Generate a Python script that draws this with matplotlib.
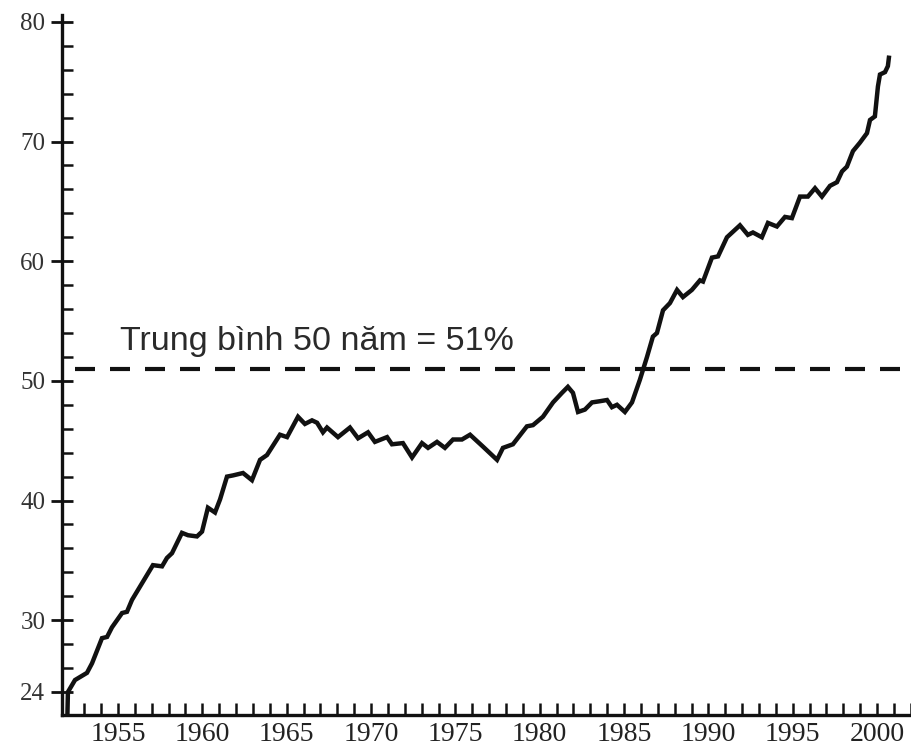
import matplotlib
matplotlib.use("Agg")
import matplotlib.pyplot as plt
from matplotlib.ticker import MultipleLocator, FixedLocator

# values (year, percent)
years = [1952.0, 1952.03, 1952.45, 1953.16, 1953.46, 1954.05, 1954.35, 1954.64, 1955.24, 1955.53,
         1955.83, 1956.30, 1957.07, 1957.61, 1957.90, 1958.20, 1958.79, 1959.15, 1959.68,
         1959.98, 1960.33, 1960.75, 1961.05, 1961.46, 1961.82, 1962.41, 1962.94, 1963.42,
         1963.83, 1964.60, 1965.02, 1965.67, 1966.08, 1966.50, 1966.80, 1967.15, 1967.39,
         1968.04, 1968.75, 1969.23, 1969.82, 1970.23, 1970.95, 1971.24, 1971.89, 1972.43,
         1973.02, 1973.38, 1973.91, 1974.38, 1974.86, 1975.39, 1975.87, 1976.64, 1977.47,
         1977.82, 1978.41, 1979.24, 1979.60, 1980.19, 1980.79, 1981.32, 1981.67, 1981.97,
         1982.27, 1982.68, 1983.10, 1983.57, 1983.99, 1984.28, 1984.58, 1985.05, 1985.47,
         1985.94, 1986.36, 1986.71, 1986.95, 1987.31, 1987.72, 1988.14, 1988.49, 1989.02,
         1989.50, 1989.68, 1990.21, 1990.57, 1991.10, 1991.87, 1992.34, 1992.64, 1993.17,
         1993.53, 1994.06, 1994.54, 1994.95, 1995.43, 1995.90, 1996.32, 1996.73, 1997.21,
         1997.62, 1997.92, 1998.21, 1998.57, 1998.98, 1999.40, 1999.58, 1999.87, 2000.05,
         2000.17, 2000.47, 2000.64, 2000.70]
share = [22.1, 24.0, 25.0, 25.6, 26.4, 28.5, 28.6, 29.4, 30.6, 30.7,
         31.7, 32.8, 34.6, 34.5, 35.2, 35.6, 37.3, 37.1, 37.0,
         37.4, 39.4, 39.0, 40.1, 42.0, 42.1, 42.3, 41.7, 43.4,
         43.8, 45.5, 45.3, 47.0, 46.4, 46.7, 46.5, 45.7, 46.1,
         45.3, 46.1, 45.2, 45.7, 44.9, 45.3, 44.7, 44.8, 43.6,
         44.8, 44.4, 44.9, 44.4, 45.1, 45.1, 45.5, 44.5, 43.4,
         44.4, 44.7, 46.2, 46.3, 47.0, 48.2, 49.0, 49.5, 49.0,
         47.4, 47.6, 48.2, 48.3, 48.4, 47.8, 48.0, 47.4, 48.2,
         50.1, 52.0, 53.7, 54.0, 55.9, 56.5, 57.6, 57.0, 57.6,
         58.4, 58.3, 60.3, 60.4, 62.0, 63.0, 62.2, 62.4, 62.0,
         63.2, 62.9, 63.7, 63.6, 65.4, 65.4, 66.1, 65.4, 66.3,
         66.6, 67.5, 67.9, 69.2, 69.9, 70.7, 71.8, 72.1, 74.6,
         75.6, 75.8, 76.3, 77.0]

avg_value = 51
avg_label = "Trung bình 50 năm = 51%"
y_ticks = [24, 30, 40, 50, 60, 70, 80]
x_label_years = list(range(1955, 2001, 5))

fig = plt.figure(figsize=(9.12, 7.53), dpi=100)
ax = fig.add_axes([0.068, 0.0505, 0.932, 0.93])

ax.plot(years, share, color="#111111", lw=3.2, solid_joinstyle="miter")
ax.axhline(avg_value, xmin=0.015, xmax=1.0, color="#111111", lw=3.0, dashes=(4.8, 3.6))
ax.text(1955.1, 52.6, avg_label, fontsize=24.5, color="#2a2a2a",
        family="Liberation Sans", va="baseline", ha="left")

ax.set_xlim(1951.68, 2002.07)
ax.set_ylim(22.08, 80.6)

for s in ["top", "right"]:
    ax.spines[s].set_visible(False)
for s in ["left", "bottom"]:
    ax.spines[s].set_linewidth(2.4)
    ax.spines[s].set_color("#111111")

ax.yaxis.set_major_locator(FixedLocator(y_ticks))
ax.yaxis.set_minor_locator(FixedLocator([v for v in range(26, 80, 2) if v % 10 != 0]))
ax.tick_params(axis="y", which="major", direction="inout", length=16, width=2.0,
               pad=4, labelsize=18, labelcolor="#333333", color="#111111")
ax.tick_params(axis="y", which="minor", direction="in", length=8, width=1.8, color="#111111")

ax.xaxis.set_major_locator(FixedLocator(x_label_years))
ax.xaxis.set_minor_locator(MultipleLocator(1))
ax.tick_params(axis="x", which="both", direction="in", length=9, width=1.8, color="#111111")
ax.tick_params(axis="x", which="major", pad=5, labelsize=20, labelcolor="#222222")

for lab in ax.get_xticklabels() + ax.get_yticklabels():
    lab.set_family("Liberation Serif")

fig.savefig("out.png", dpi=100)
